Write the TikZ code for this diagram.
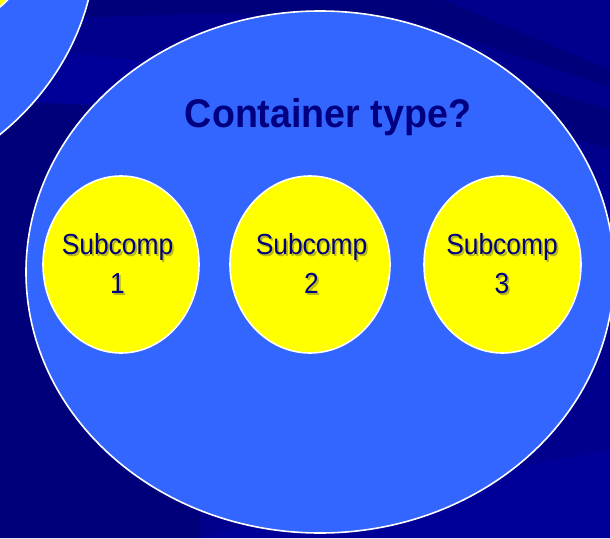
\documentclass[tikz,border=0pt]{standalone}
\usepackage{fontspec}
\newfontfamily\titlefont[FakeStretch=0.94]{Liberation Sans}
\newfontfamily\subfont[FakeStretch=0.91]{Liberation Sans}
\definecolor{bgbase}{RGB}{0,0,140}
\definecolor{bgdark}{RGB}{0,0,122}
\definecolor{bglight}{RGB}{0,0,152}
\definecolor{contblue}{RGB}{51,102,255}
\definecolor{subyellow}{RGB}{255,255,0}
\definecolor{inktext}{RGB}{0,0,128}
\definecolor{shadowolive}{RGB}{185,185,20}
% a line of text with a soft drop shadow under it
\newcommand{\shadowedline}[1]{\makebox[0pt][l]{\raisebox{-1.8pt}{\hspace{1.8pt}\textcolor{shadowolive}{#1}}}#1}
\tikzset{
  container/.style={fill=contblue, draw=white, line width=1.6pt},
  subcomp/.style={fill=subyellow, draw=white, line width=1.6pt},
  title/.style={font=\titlefont\bfseries\fontsize{40}{44}\selectfont, text=inktext, inner sep=0pt, anchor=base},
  sublabel/.style={font=\subfont\fontsize{29}{39}\selectfont, text=inktext, align=center, inner sep=0pt},
}
\begin{document}
\begin{tikzpicture}[x=1pt, y=-1pt]
  \useasboundingbox (0,0) rectangle (610,538);
  \clip (0,0) rectangle (610,538);

  % backdrop with faint diagonal bands
  \fill[bgbase] (0,0) rectangle (610,538);
  \fill[bgdark] (0,-5) -- (443,-5) -- (443,0) -- (610,70) -- (610,87) -- (400,17) -- (200,14) -- (60,18) -- (0,20) -- cycle;
  \fill[bglight] (0,45) -- (200,68) -- (610,190) -- (610,230) -- (200,112) -- (0,100) -- cycle;
  \fill[bgdark] (610,110) -- (400,45) -- (400,80) -- (610,150) -- cycle;
  \fill[bgdark] (0,100) -- (200,112) -- (200,538) -- (0,538) -- cycle;
  \fill[bglight] (200,538) -- (610,538) -- (610,450) -- (330,500) -- cycle;

  % neighbouring container, top left
  \draw[container] (-195,-60) ellipse [x radius=291, y radius=262];
  \draw[subcomp] (-45,-65) ellipse [x radius=78, y radius=88];

  % main container
  \draw[container] (320,272) ellipse [x radius=294, y radius=261];
  \node[title] (ttl) at (328,127) {Container type?};

  % sub-components
  \draw[subcomp] (121,264.5) ellipse [x radius=78, y radius=88.5];
  \draw[subcomp] (310,264.5) ellipse [x radius=80, y radius=88.5];
  \draw[subcomp] (502.5,264.5) ellipse [x radius=78.5, y radius=88.5];

  \node[sublabel] (s1) at (117.5,264.5) {\shadowedline{Subcomp}\\\shadowedline{1}};
  \node[sublabel] (s2) at (311.5,264.5) {\shadowedline{Subcomp}\\\shadowedline{2}};
  \node[sublabel] (s3) at (502,264.5) {\shadowedline{Subcomp}\\\shadowedline{3}};
\end{tikzpicture}
\end{document}
